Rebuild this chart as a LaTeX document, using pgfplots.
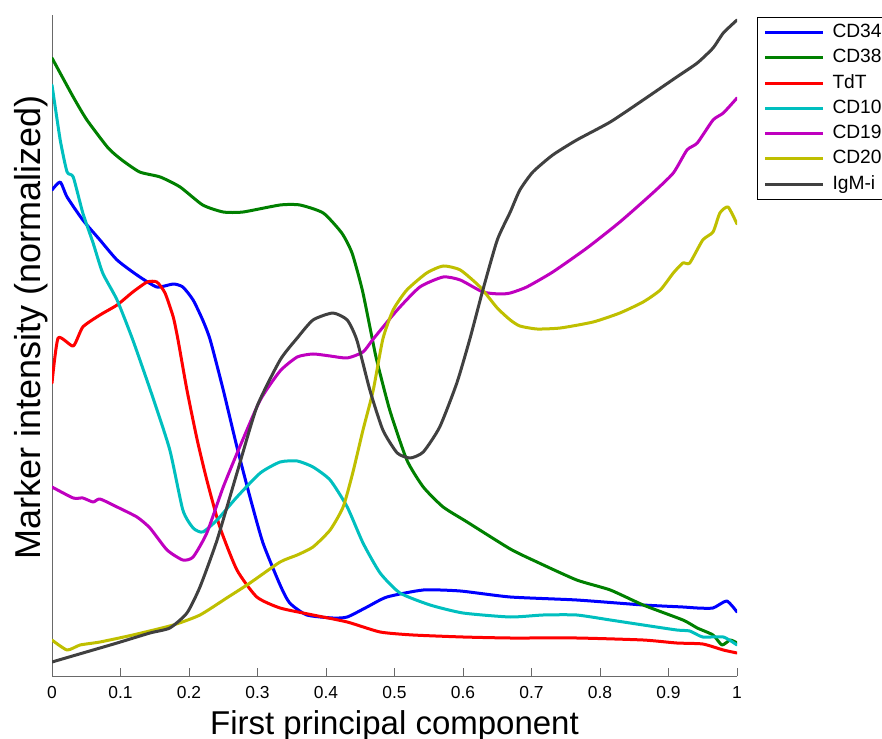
\documentclass[border=0pt]{standalone}
\usepackage{fontspec}
\setmainfont{Liberation Sans}
\usepackage{pgfplots}
\pgfplotsset{compat=1.18}

\definecolor{cdblue}{RGB}{0,0,255}
\definecolor{cdgreen}{RGB}{0,128,0}
\definecolor{cdred}{RGB}{255,0,0}
\definecolor{cdcyan}{RGB}{0,191,191}
\definecolor{cdmagenta}{RGB}{191,0,191}
\definecolor{cdolive}{RGB}{191,191,0}
\definecolor{cddark}{RGB}{64,64,64}
\definecolor{axgray}{RGB}{105,105,105}

\begin{document}
\begin{tikzpicture}
\path[use as bounding box] (0,0) rectangle (441pt,369pt);
\begin{axis}[
  at={(26pt,31pt)}, anchor=south west,
  scale only axis, width=342.5pt, height=330.5pt,
  xmin=0, xmax=1, ymin=0, ymax=661,
  axis x line=bottom, axis y line=left,
  axis line style={-, draw=axgray, line width=0.5pt},
  xtick={0,0.1,0.2,0.3,0.4,0.5,0.6,0.7,0.8,0.9,1},
  xticklabels={0,0.1,0.2,0.3,0.4,0.5,0.6,0.7,0.8,0.9,1},
  ytick=\empty,
  tick align=inside, major tick length=3.8pt,
  tick style={draw=axgray, line width=0.5pt},
  xticklabel style={font=\fontsize{8.7}{10}\selectfont, anchor=base, yshift=-11pt},
  xlabel={First principal component},
  xlabel style={font=\fontsize{16.5}{18}\selectfont, at={(axis description cs:0.5,0)}, anchor=base, yshift=-29pt},
  ylabel={Marker intensity (normalized)},
  ylabel style={font=\fontsize{18}{20}\selectfont, at={(axis description cs:0,0.527)}, anchor=base, yshift=6pt},
  every axis plot/.append style={line width=1.5pt, line join=round, line cap=round, smooth, tension=0.35},
  legend image code/.code={\draw[#1, line cap=butt, sharp plot] (0pt,0pt) -- (29pt,0pt); \path (32pt,0pt);},
  legend cell align=left,
  legend style={at={(axis description cs:1,1)}, anchor=north west, xshift=10pt, yshift=-1pt,
    draw=black, line width=0.5pt, font=\fontsize{9.6}{11}\selectfont,
    inner xsep=3pt, inner ysep=2pt, row sep=1.65pt,
    nodes={inner sep=1pt, text height=7pt, text depth=2pt}},
]
% CD34
\addplot[cdblue] coordinates {
(0,486) (0.012,494) (0.022,479) (0.045,456) (0.070,436) (0.095,416) (0.124,401)
(0.153,389) (0.177,392) (0.191,389) (0.206,376) (0.220,356) (0.231,336) (0.250,286)
(0.270,229) (0.289,179) (0.308,133) (0.333,91) (0.347,73) (0.372,61) (0.410,58)
(0.431,59) (0.460,69) (0.489,79) (0.542,86) (0.596,85) (0.669,79) (0.766,76)
(0.863,71) (0.921,69) (0.942,68) (0.965,68) (0.985,75) (1,64)};
\addlegendentry{CD34}
% CD38
\addplot[cdgreen] coordinates {
(0,618) (0.031,579) (0.051,556) (0.082,528) (0.102,516) (0.128,504) (0.158,499)
(0.187,489) (0.220,471) (0.250,464) (0.279,464) (0.333,471) (0.362,471) (0.396,463)
(0.423,443) (0.438,423) (0.453,386) (0.467,339) (0.474,316) (0.493,266) (0.518,216)
(0.542,189) (0.571,169) (0.606,154) (0.669,127) (0.708,114) (0.766,96) (0.815,86)
(0.863,71) (0.921,56) (0.942,48) (0.965,41) (0.978,31) (0.990,36) (1,33)};
\addlegendentry{CD38}
% TdT
\addplot[cdred] coordinates {
(0,293) (0.009,338) (0.031,330) (0.045,349) (0.070,361) (0.095,371) (0.118,384)
(0.139,394) (0.153,394) (0.165,383) (0.177,359) (0.184,336) (0.197,286) (0.212,236)
(0.226,196) (0.245,149) (0.270,106) (0.299,79) (0.333,68) (0.381,61) (0.431,54)
(0.479,44) (0.527,41) (0.600,39) (0.669,38) (0.766,38) (0.863,36) (0.912,33)
(0.950,32) (0.980,26) (1,23)};
\addlegendentry{TdT}
% CD10
\addplot[cdcyan] coordinates {
(0,591) (0.012,536) (0.022,504) (0.031,499) (0.045,463) (0.060,433) (0.074,403)
(0.095,376) (0.118,336) (0.147,279) (0.172,226) (0.191,166) (0.206,148) (0.220,144)
(0.241,156) (0.270,179) (0.304,203) (0.333,214) (0.358,215) (0.381,209) (0.406,196)
(0.431,169) (0.454,133) (0.479,103) (0.508,83) (0.552,71) (0.600,63) (0.669,59)
(0.717,61) (0.766,61) (0.815,56) (0.863,51) (0.912,46) (0.931,45) (0.950,39)
(0.980,39) (1,31)};
\addlegendentry{CD10}
% CD19
\addplot[cdmagenta] coordinates {
(0,189) (0.031,178) (0.045,178) (0.060,174) (0.070,177) (0.095,169) (0.124,159)
(0.143,148) (0.168,126) (0.191,116) (0.206,119) (0.226,143) (0.250,189) (0.274,229)
(0.304,276) (0.333,305) (0.358,319) (0.381,322) (0.406,320) (0.431,318) (0.454,324)
(0.469,337) (0.504,366) (0.537,389) (0.571,399) (0.596,396) (0.629,384) (0.654,382)
(0.669,383) (0.693,389) (0.731,404) (0.781,428) (0.829,454) (0.877,483) (0.907,503)
(0.927,526) (0.942,533) (0.965,556) (0.980,563) (1,578)};
\addlegendentry{CD19}
% CD20
\addplot[cdolive] coordinates {
(0,36) (0.022,26) (0.041,31) (0.070,34) (0.118,41) (0.177,51) (0.216,61)
(0.255,78) (0.289,93) (0.333,114) (0.358,121) (0.381,129) (0.406,146) (0.425,169)
(0.439,203) (0.454,246) (0.469,286) (0.483,337) (0.498,366) (0.518,386) (0.547,403)
(0.571,410) (0.596,406) (0.625,389) (0.650,368) (0.669,356) (0.683,350) (0.708,347)
(0.742,348) (0.790,354) (0.829,363) (0.863,374) (0.888,386) (0.907,403) (0.921,413)
(0.931,413) (0.950,436) (0.965,444) (0.975,463) (0.987,469) (1,452)};
\addlegendentry{CD20}
% IgM-i
\addplot[cddark] coordinates {
(0,14) (0.045,23) (0.095,33) (0.143,43) (0.172,48) (0.197,63) (0.216,89)
(0.241,136) (0.270,203) (0.299,269) (0.333,316) (0.358,338) (0.381,356) (0.410,363)
(0.431,356) (0.445,336) (0.464,286) (0.483,246) (0.504,223) (0.523,218) (0.542,224)
(0.566,249) (0.591,293) (0.610,337) (0.629,386) (0.650,436) (0.669,464) (0.683,486)
(0.702,504) (0.731,521) (0.766,536) (0.815,554) (0.863,576) (0.912,599) (0.942,613)
(0.965,628) (0.980,643) (1,656)};
\addlegendentry{IgM-i}
\end{axis}
\end{tikzpicture}
\end{document}
